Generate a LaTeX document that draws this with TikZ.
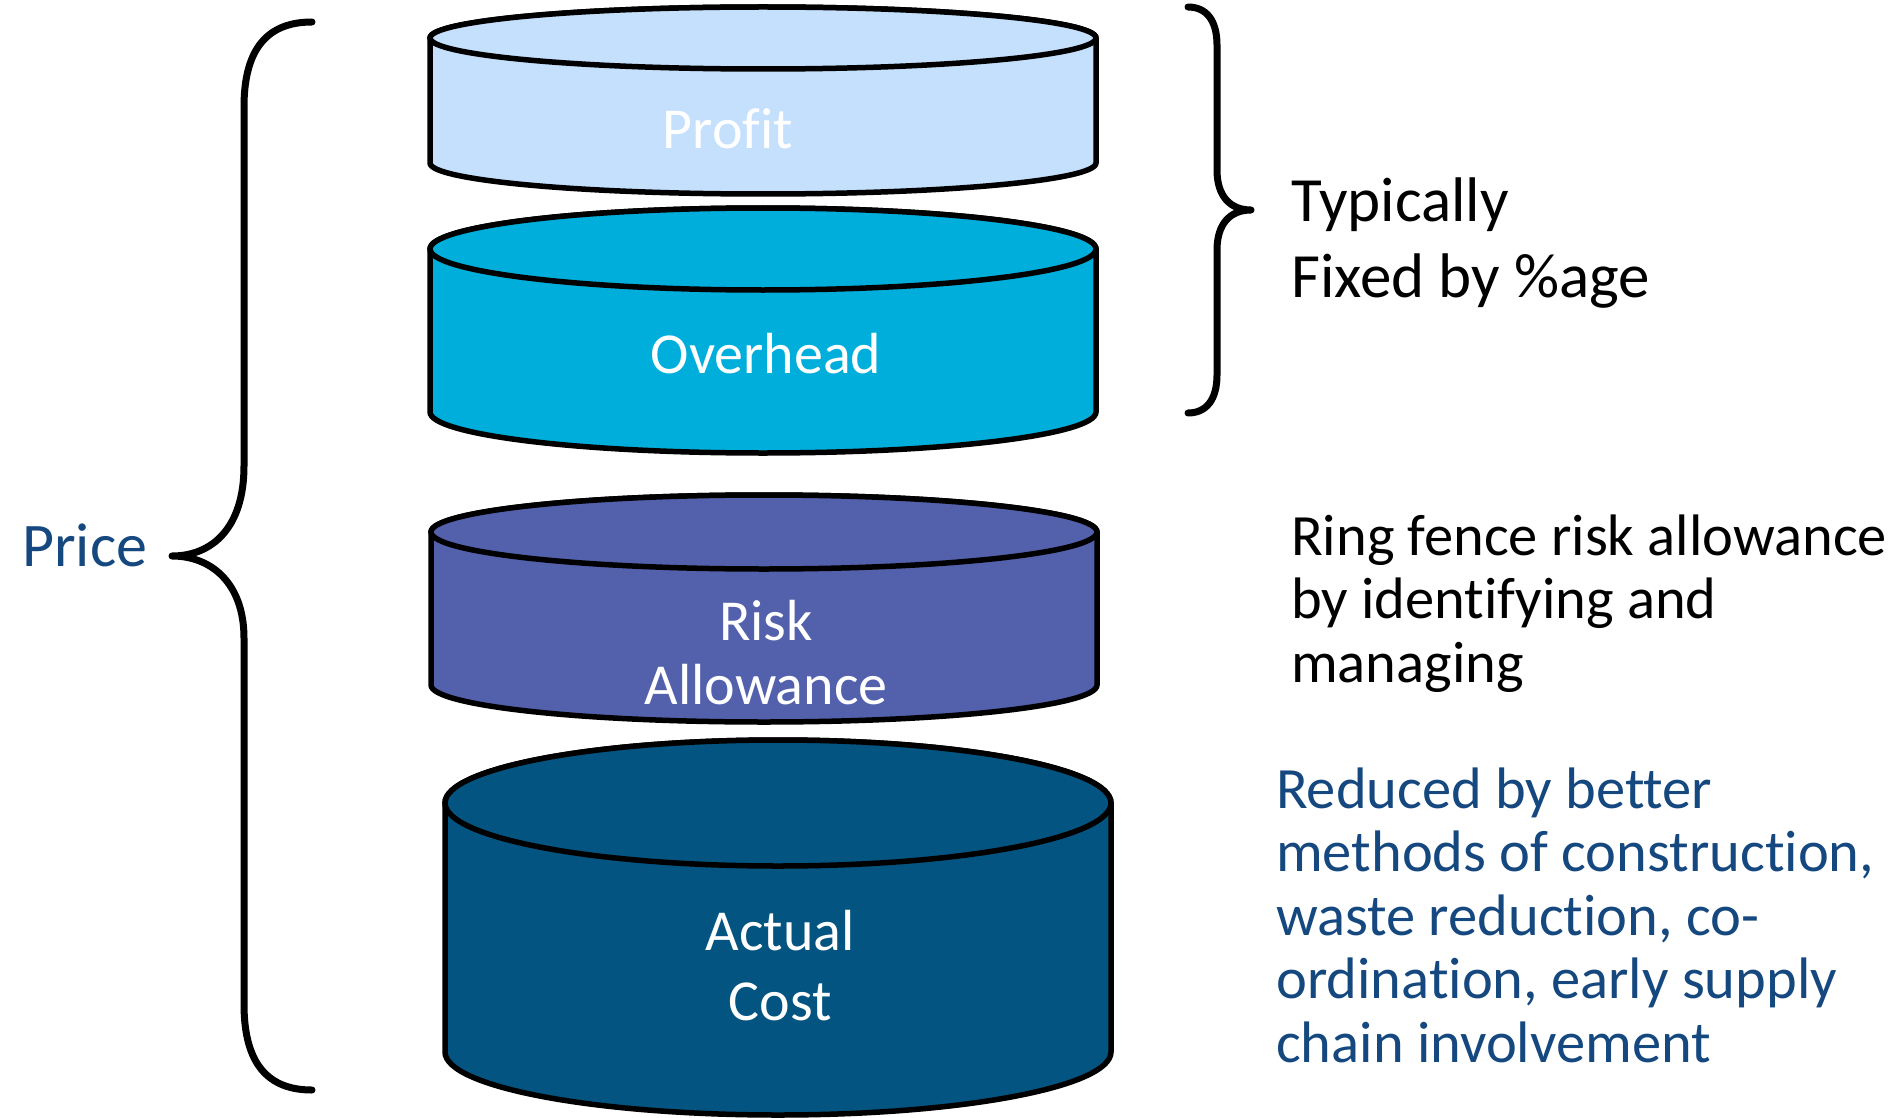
\documentclass[tikz,border=0pt]{standalone}
\usepackage{fontspec}
\setmainfont{Carlito}[Ligatures=NoCommon]
\definecolor{profitfill}{RGB}{196,224,252}
\definecolor{overheadfill}{RGB}{0,174,219}
\definecolor{riskfill}{RGB}{83,97,172}
\definecolor{costfill}{RGB}{3,84,128}
\definecolor{textblue}{RGB}{22,72,128}
\newcommand\mycyl[6]{% cx, top y, bottom y, rx, ry, fill
  \filldraw[cylline, fill=#6] (#1-#4,#2) -- (#1-#4,#3)
    arc[start angle=180, end angle=360, x radius=#4pt, y radius=#5pt]
    -- (#1+#4,#2)
    arc[start angle=0, end angle=180, x radius=#4pt, y radius=#5pt] -- cycle;
  \filldraw[cylline, fill=#6] (#1,#2) ellipse[x radius=#4pt, y radius=#5pt];
}
\tikzset{
  cylline/.style={draw=black, line width=5.5pt},
  cyltext/.style={text=white, font=\fontsize{58}{64}\selectfont, align=center, inner sep=0pt, anchor=base},
  sidetext/.style={font=\fontsize{58.5}{63.5}\selectfont, align=left, inner sep=0pt, anchor=base west},
  bracestyle/.style={draw=black, line width=7pt, line cap=round, line join=round}
}
\begin{document}
\begin{tikzpicture}[x=1pt, y=-1pt]
\useasboundingbox (0,0) rectangle (1897,1118);
\fill[white] (0,0) rectangle (1897,1118);

% cylinders
\mycyl{763}{38}{163}{333}{31}{profitfill}
\mycyl{763}{249}{412}{333}{41}{overheadfill}
\mycyl{764}{532}{685}{333}{37}{riskfill}
\mycyl{778}{803}{1052}{333}{63}{costfill}

% cylinder labels (base = baseline of last line)
\node[cyltext] (profit) at (728,149) {Prof\kern0pt it};
\node[cyltext] (overhead) at (766,373) {Overhead};
\node[cyltext] (risk) at (766,704) {Risk\\Allowance};
\node[cyltext, font=\fontsize{58}{70}\selectfont] (cost) at (780,1020) {Actual\\Cost};

% left brace
\coordinate (lbtop) at (312,22);
\coordinate (lbtip) at (172,556);
\coordinate (lbbot) at (312,1090);
\draw[bracestyle] (lbtop) .. controls (268,22) and (244,48) .. (244,107)
  -- (244,466) .. controls (244,528) and (212,556) .. (lbtip)
  .. controls (212,556) and (244,584) .. (244,638)
  -- (244,1004) .. controls (244,1064) and (268,1090) .. (lbbot);

% right brace
\coordinate (rbtop) at (1188,7);
\coordinate (rbtip) at (1251,210);
\coordinate (rbbot) at (1188,413);
\draw[bracestyle] (rbtop) .. controls (1206,7) and (1217,20) .. (1217,45)
  -- (1217,170) .. controls (1217,196) and (1230,210) .. (rbtip)
  .. controls (1230,210) and (1217,224) .. (1217,250)
  -- (1217,375) .. controls (1217,400) and (1206,413) .. (rbbot);

% texts
\node[anchor=base west, inner sep=0pt, text=textblue, font=\fontsize{62}{70}\selectfont] (price) at (22,566) {Price};
\node[sidetext, font=\fontsize{63}{76}\selectfont] (fixed) at (1291,297) {Typically\\Fixed by \%age};
\node[sidetext] (ring) at (1291,682) {Ring fence risk allowance\\by identifying and\\managing};
\node[sidetext, text=textblue] (reduced) at (1276,1062) {Reduced by better\\methods of construction,\\waste reduction, co-\\ordination, early supply\\chain involvement};
\end{tikzpicture}
\end{document}
